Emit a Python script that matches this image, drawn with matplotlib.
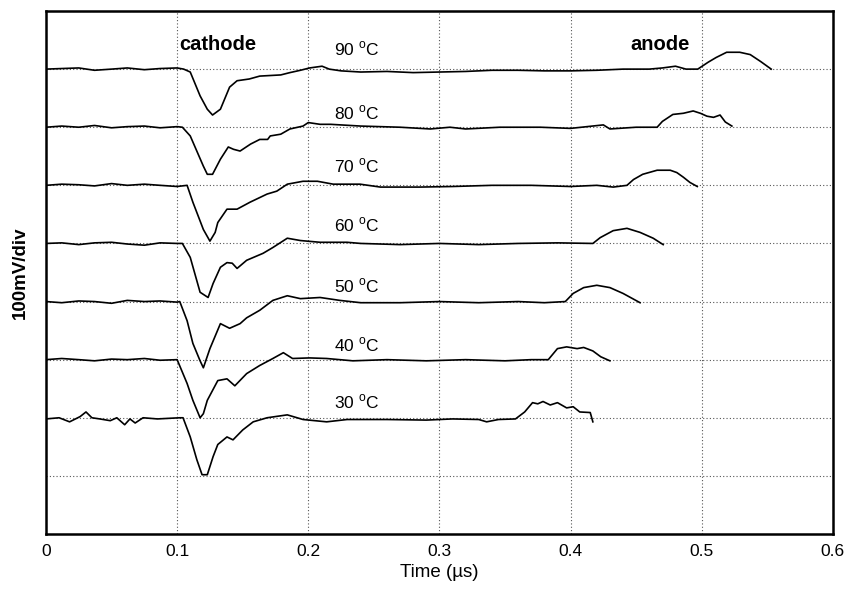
import matplotlib
matplotlib.use("Agg")
import matplotlib.pyplot as plt
import numpy as np

plt.rcParams['font.family'] = ['Liberation Sans', 'DejaVu Sans']

# ---- data (time in µs, signal in divisions relative to each trace's baseline) ----
temps = [90, 80, 70, 60, 50, 40, 30]
baselines = [8, 7, 6, 5, 4, 3, 2]

t90 = [0, 0.012, 0.025, 0.037, 0.05, 0.062, 0.075, 0.087, 0.1, 0.105, 0.11, 0.1175, 0.123, 0.127, 0.133,
       0.14, 0.1457, 0.155, 0.163, 0.171, 0.179, 0.186, 0.194, 0.201, 0.2105, 0.216, 0.225, 0.24, 0.26,
       0.28, 0.30, 0.32, 0.34, 0.36, 0.38, 0.40, 0.42, 0.44, 0.46, 0.47, 0.48, 0.488, 0.497, 0.505,
       0.511, 0.519, 0.524, 0.529, 0.537, 0.545, 0.553]
v90 = [0, 0.01, 0.02, -0.02, 0.0, 0.02, -0.01, 0.01, 0.02, 0.0, -0.05, -0.46, -0.69, -0.79, -0.69,
       -0.31, -0.2, -0.17, -0.12, -0.11, -0.1, -0.06, -0.02, 0.02, 0.05, 0.0, -0.03, -0.05, -0.04,
       -0.06, -0.05, -0.04, -0.02, -0.02, -0.03, -0.03, -0.02, 0.0, 0.0, 0.02, 0.05, 0.0, 0.0, 0.12,
       0.2, 0.29, 0.29, 0.29, 0.25, 0.13, 0.0]

t80 = [0, 0.012, 0.025, 0.037, 0.05, 0.062, 0.075, 0.087, 0.1, 0.104, 0.11, 0.115, 0.12, 0.123, 0.127,
       0.133, 0.139, 0.143, 0.148, 0.156, 0.163, 0.169, 0.171, 0.179, 0.186, 0.196, 0.2, 0.209, 0.217,
       0.24, 0.27, 0.293, 0.308, 0.32, 0.346, 0.377, 0.40, 0.425, 0.43, 0.45, 0.466, 0.47, 0.478,
       0.486, 0.4935, 0.499, 0.504, 0.509, 0.514, 0.518, 0.523]
v80 = [0, 0.02, 0.0, 0.03, -0.01, 0.01, 0.02, -0.01, 0.01, 0.0, -0.15, -0.41, -0.67, -0.81, -0.81,
       -0.55, -0.34, -0.38, -0.41, -0.29, -0.21, -0.21, -0.15, -0.12, -0.03, 0.02, 0.08, 0.05, 0.05,
       0.02, 0.0, -0.03, 0.0, -0.03, 0.0, 0.0, -0.02, 0.04, -0.03, 0.0, 0.0, 0.1, 0.22,
       0.24, 0.28, 0.24, 0.19, 0.17, 0.21, 0.09, 0.02]

t70 = [0, 0.012, 0.025, 0.037, 0.05, 0.062, 0.075, 0.087, 0.1, 0.1076, 0.112, 0.12, 0.125, 0.129,
       0.131, 0.138, 0.1457, 0.1556, 0.1686, 0.176, 0.184, 0.196, 0.207, 0.219, 0.2395, 0.255, 0.285,
       0.31, 0.34, 0.37, 0.40, 0.42, 0.4325, 0.443, 0.448, 0.455, 0.466, 0.476, 0.481, 0.486, 0.491,
       0.4966]
v70 = [0, 0.02, 0.01, -0.01, 0.03, 0.0, 0.02, 0.0, -0.02, 0.0, -0.29, -0.76, -0.96, -0.81,
       -0.64, -0.41, -0.41, -0.29, -0.15, -0.1, 0.02, 0.07, 0.07, 0.02, 0.02, -0.03, -0.03,
       -0.02, 0.0, 0.0, -0.02, 0.0, -0.03, 0.0, 0.1, 0.19, 0.26, 0.26, 0.22, 0.14, 0.05,
       -0.02]

t60 = [0, 0.012, 0.025, 0.037, 0.05, 0.062, 0.075, 0.087, 0.1, 0.104, 0.11, 0.115, 0.1175, 0.1236,
       0.1274, 0.133, 0.138, 0.142, 0.1457, 0.153, 0.1655, 0.173, 0.184, 0.194, 0.209, 0.2296, 0.24,
       0.27, 0.30, 0.33, 0.36, 0.39, 0.417, 0.4226, 0.4325, 0.443, 0.453, 0.463, 0.4706]
v60 = [0, 0.01, -0.02, 0.01, 0.02, -0.01, -0.03, 0.01, 0.0, 0.0, -0.24, -0.64, -0.84, -0.93,
       -0.69, -0.41, -0.33, -0.34, -0.43, -0.29, -0.17, -0.07, 0.09, 0.05, 0.02, 0.02, 0.0,
       -0.02, 0.0, -0.02, 0.0, 0.01, 0.0, 0.1, 0.22, 0.26, 0.19, 0.09, -0.02]

t50 = [0, 0.012, 0.025, 0.037, 0.05, 0.062, 0.075, 0.087, 0.1, 0.102, 0.1076, 0.112, 0.1175, 0.12,
       0.125, 0.133, 0.14, 0.148, 0.153, 0.163, 0.173, 0.184, 0.194, 0.209, 0.224, 0.24, 0.27, 0.30,
       0.33, 0.36, 0.38, 0.396, 0.402, 0.41, 0.42, 0.43, 0.44, 0.453]
v50 = [0, -0.02, 0.01, 0.0, -0.03, 0.02, 0.0, 0.01, -0.01, 0.0, -0.33, -0.72, -1.02, -1.14,
       -0.81, -0.38, -0.46, -0.38, -0.28, -0.15, 0.02, 0.1, 0.05, 0.07, 0.02, -0.02, -0.02, 0.0,
       -0.02, 0.0, -0.02, 0.0, 0.14, 0.24, 0.28, 0.24, 0.14, -0.02]

t40 = [0, 0.012, 0.025, 0.037, 0.05, 0.062, 0.075, 0.087, 0.1, 0.1076, 0.112, 0.1175, 0.12, 0.123,
       0.131, 0.138, 0.144, 0.153, 0.163, 0.173, 0.181, 0.188, 0.201, 0.214, 0.234, 0.26, 0.29, 0.32,
       0.35, 0.37, 0.383, 0.39, 0.397, 0.405, 0.41, 0.417, 0.423, 0.43]
v40 = [0, 0.02, 0.0, -0.02, 0.01, 0.0, 0.02, -0.01, 0.0, -0.41, -0.7, -1.0, -0.93, -0.7,
       -0.36, -0.33, -0.45, -0.24, -0.1, 0.02, 0.12, 0.02, 0.03, 0.02, -0.02, 0.0, -0.02, 0.0,
       -0.02, 0.0, 0.0, 0.19, 0.22, 0.19, 0.21, 0.15, 0.05, -0.02]

t30 = [0, 0.01, 0.018, 0.026, 0.0305, 0.035, 0.041, 0.049, 0.054, 0.06, 0.064, 0.068, 0.074, 0.085,
       0.102, 0.1045, 0.11, 0.115, 0.119, 0.123, 0.1274, 0.131, 0.138, 0.1426, 0.15, 0.158, 0.1686,
       0.184, 0.196, 0.214, 0.2296, 0.26, 0.29, 0.31, 0.33, 0.336, 0.345, 0.358, 0.365, 0.371,
       0.375, 0.379, 0.3845, 0.39, 0.397, 0.402, 0.407, 0.415, 0.417]
v30 = [-0.02, 0.0, -0.07, 0.02, 0.1, 0.0, -0.02, -0.05, 0.0, -0.12, -0.02, -0.09, 0.0, -0.02,
       0.0, 0.0, -0.33, -0.72, -0.98, -0.98, -0.67, -0.46, -0.33, -0.38, -0.21, -0.07, 0.0,
       0.05, -0.03, -0.07, -0.03, -0.03, -0.04, -0.02, -0.03, -0.07, -0.03, -0.02, 0.1, 0.26,
       0.24, 0.28, 0.22, 0.26, 0.17, 0.19, 0.1, 0.09, -0.07]

times = [t90, t80, t70, t60, t50, t40, t30]
values = [v90, v80, v70, v60, v50, v40, v30]

label_x = [0.237, 0.237, 0.237, 0.237, 0.237, 0.237, 0.237]
label_dy = [0.34, 0.24, 0.33, 0.31, 0.27, 0.26, 0.28]

x_ticks = [0, 0.1, 0.2, 0.3, 0.4, 0.5, 0.6]
x_ticklabels = ["0", "0.1", "0.2", "0.3", "0.4", "0.5", "0.6"]

# ---- figure ----
fig = plt.figure(figsize=(8.47, 5.92), dpi=100)
ax = fig.add_axes([0.0543, 0.098, 0.929, 0.8834])

for t, v, b in zip(times, values, baselines):
    ax.plot(t, np.array(v) + b, color='black', lw=1.2, solid_joinstyle='round')

for T, b, lx, dy in zip(temps, baselines, label_x, label_dy):
    ax.text(lx, b + dy, f"{T} $^\\mathregular{{o}}$C", ha='center', va='center', fontsize=12.5)

ax.text(0.131, 8.42, "cathode", ha='center', va='center', fontsize=14.5, fontweight='bold')
ax.text(0.468, 8.42, "anode", ha='center', va='center', fontsize=14.5, fontweight='bold')

ax.set_xlim(0, 0.6)
ax.set_ylim(0, 9)
ax.set_xticks(x_ticks)
ax.set_xticklabels(x_ticklabels, fontsize=12.5)
ax.set_yticks(range(0, 10))
ax.set_yticklabels([])
ax.tick_params(length=0, pad=7)
ax.grid(True, linestyle=(0, (1, 2)), color='#555555', linewidth=0.8)
for s in ax.spines.values():
    s.set_linewidth(1.8)
ax.set_xlabel("Time (µs)", fontsize=13.5, labelpad=4)
ax.set_ylabel("100mV/div", fontsize=13.5, fontweight='bold', labelpad=5)

fig.savefig("out.png", dpi=100)
